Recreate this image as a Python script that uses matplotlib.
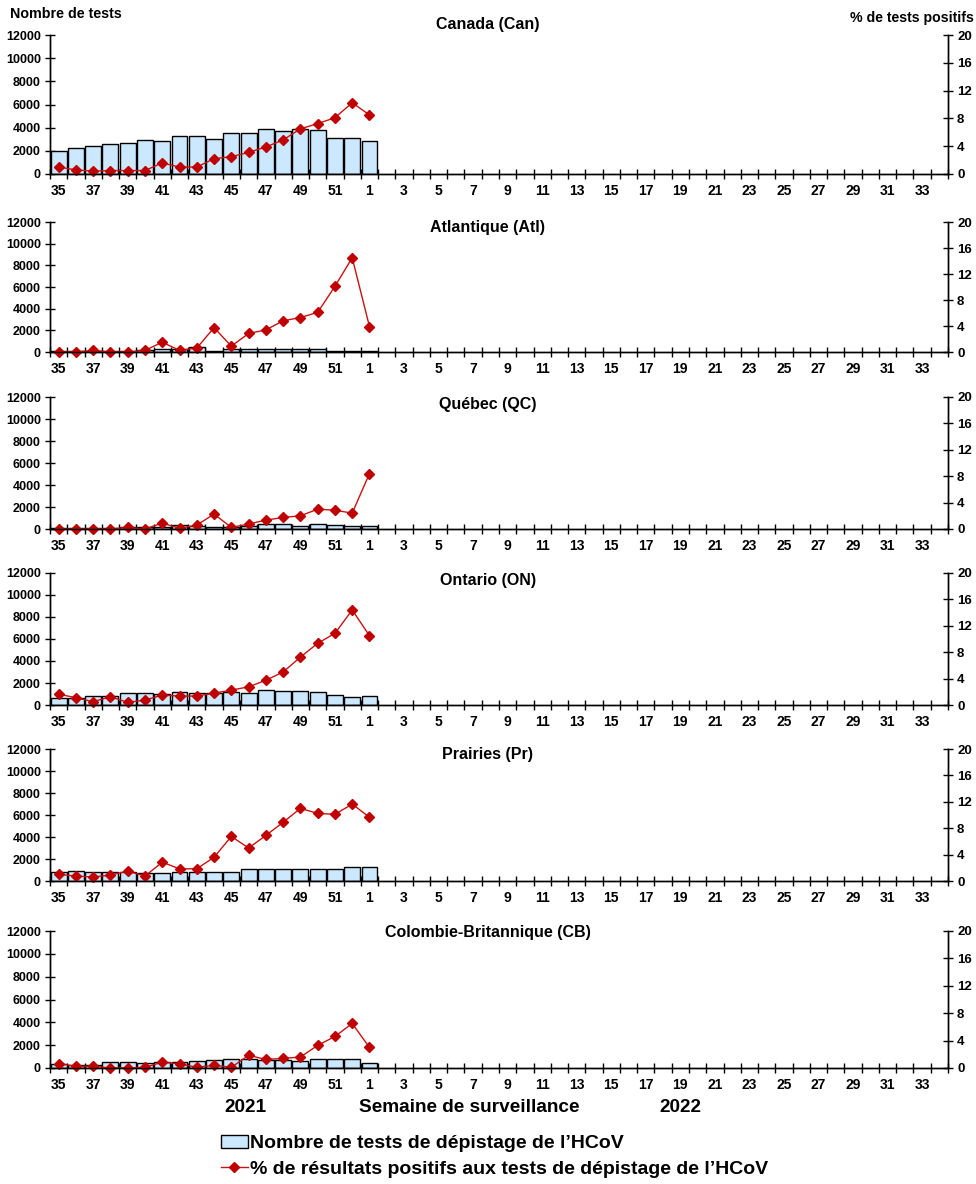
import numpy as np
import matplotlib
matplotlib.use('Agg')
import matplotlib.pyplot as plt
from matplotlib.patches import Patch
from matplotlib.lines import Line2D

plt.rcParams['font.family'] = ['Liberation Sans', 'DejaVu Sans']
plt.rcParams['font.weight'] = 'bold'

# weeks of the surveillance season (35..52 in 2021, 1..34 in 2022)
weeks = [str(w) for w in list(range(35, 53)) + list(range(1, 35))]

regions = ['Canada (Can)', 'Atlantique (Atl)', 'Québec (QC)',
           'Ontario (ON)', 'Prairies (Pr)', 'Colombie-Britannique (CB)']

# number of tests (weeks 35 .. 52, 1)
tests_can = [2000, 2250, 2450, 2550, 2700, 2950, 2850, 3300, 3300, 3050,
             3500, 3500, 3900, 3750, 3850, 3800, 3150, 3150, 2850]
tests_atl = [50, 100, 100, 50, 50, 200, 250, 300, 500, 50,
             250, 250, 250, 300, 300, 300, 50, 50, 50]
tests_qc = [50, 50, 50, 100, 150, 150, 200, 400, 250, 150,
            200, 250, 450, 450, 250, 450, 350, 250, 250]
tests_on = [650, 650, 800, 800, 1050, 1050, 1000, 1150, 1050, 1050,
            1150, 1050, 1350, 1250, 1250, 1150, 900, 700, 800]
tests_pr = [800, 950, 850, 850, 800, 750, 700, 800, 800, 850,
            850, 1050, 1050, 1050, 1050, 1050, 1050, 1250, 1250]
tests_cb = [350, 300, 300, 500, 500, 450, 500, 500, 600, 700,
            750, 750, 700, 700, 650, 750, 750, 750, 400]

# % positive
pct_can = [1.0, 0.6, 0.4, 0.5, 0.5, 0.5, 1.6, 1.0, 1.0, 2.2,
           2.5, 3.1, 3.9, 4.9, 6.5, 7.25, 8.1, 10.25, 8.5]
pct_atl = [0.0, 0.0, 0.25, 0.0, 0.0, 0.25, 1.5, 0.25, 0.6, 3.75,
           0.9, 2.85, 3.4, 4.8, 5.3, 6.1, 10.1, 14.5, 3.9]
pct_qc = [0.0, 0.0, 0.0, 0.0, 0.25, 0.0, 0.9, 0.1, 0.6, 2.25,
          0.25, 0.75, 1.35, 1.75, 2.0, 3.0, 2.85, 2.4, 8.4]
pct_on = [1.65, 1.1, 0.5, 1.25, 0.4, 0.75, 1.5, 1.35, 1.35, 1.8,
          2.25, 2.75, 3.75, 5.0, 7.25, 9.35, 10.85, 14.4, 10.5]
pct_pr = [1.0, 0.75, 0.6, 0.9, 1.5, 0.75, 2.85, 1.85, 1.85, 3.6,
          6.75, 5.0, 6.9, 8.9, 11.0, 10.25, 10.1, 11.65, 9.65]
pct_cb = [0.65, 0.25, 0.25, 0.0, 0.0, 0.1, 0.85, 0.6, 0.1, 0.4,
          0.1, 1.85, 1.25, 1.4, 1.6, 3.3, 4.6, 6.5, 3.0]

tests = [tests_can, tests_atl, tests_qc, tests_on, tests_pr, tests_cb]
pcts = [pct_can, pct_atl, pct_qc, pct_on, pct_pr, pct_cb]

W, H = 976, 1184
fig = plt.figure(figsize=(W / 100, H / 100), dpi=100)

# pixel boxes (top, bottom) of each panel and y of its title
boxes = [(35, 174), (222, 352), (397, 529), (573, 705), (749, 881), (931, 1068)]
title_y = [25, 227, 404, 580, 755, 933]
x0, x1 = 50, 948

bar_col = '#CCE8FF'
line_col = '#C00000'
x = np.arange(len(weeks))

for i, (top, bot) in enumerate(boxes):
    ax = fig.add_axes([x0 / W, 1 - bot / H, (x1 - x0) / W, (bot - top) / H])
    n = len(tests[i])
    ax.bar(x[:n], tests[i], width=0.92, color=bar_col, edgecolor='black',
           linewidth=1.0, zorder=2)
    ax.set_xlim(-0.5, len(weeks) - 0.5)
    ax.set_ylim(0, 12000)
    ax.set_yticks(range(0, 12001, 2000))
    ax.set_xticks(x[::2])
    ax.set_xticklabels(weeks[::2])
    ax.set_xticks(np.arange(-0.5, len(weeks), 1), minor=True)
    ax.tick_params(axis='x', which='major', length=0, pad=7, labelsize=10)
    ax.tick_params(axis='x', which='minor', length=7, direction='inout', width=1)
    ax.tick_params(axis='y', length=7, direction='inout', width=1, labelsize=9, pad=3)
    ax.spines['top'].set_visible(False)
    for s in ['left', 'bottom', 'right']:
        ax.spines[s].set_linewidth(1.0)

    ax2 = ax.twinx()
    ax2.plot(x[:n], pcts[i], color='#CC1010', linewidth=1.0, marker='D',
             markersize=5.5, markerfacecolor=line_col, markeredgecolor=line_col,
             clip_on=False)
    ax2.set_ylim(0, 20)
    ax2.set_yticks(range(0, 21, 4))
    ax2.tick_params(axis='y', length=7, direction='inout', width=1, labelsize=9.5, pad=3)
    ax2.spines['top'].set_visible(False)
    for s in ['left', 'bottom', 'right']:
        ax2.spines[s].set_linewidth(1.0)

    fig.text(488 / W, 1 - title_y[i] / H, regions[i], ha='center', va='center',
             fontsize=11.5, fontweight='bold')

fig.text(10 / W, 1 - 14 / H, 'Nombre de tests', ha='left', va='center',
         fontsize=10.3, fontweight='bold')
fig.text(974 / W, 1 - 18 / H, '% de tests positifs', ha='right', va='center',
         fontsize=10.2, fontweight='bold')

fig.text(245 / W, 1 - 1107 / H, '2021', ha='center', va='center',
         fontsize=13.7, fontweight='bold')
fig.text(469 / W, 1 - 1107 / H, 'Semaine de surveillance', ha='center',
         va='center', fontsize=13.7, fontweight='bold')
fig.text(680 / W, 1 - 1107 / H, '2022', ha='center', va='center',
         fontsize=13.7, fontweight='bold')

handles = [Patch(facecolor=bar_col, edgecolor='black', linewidth=1.0),
           Line2D([], [], color='#CC1010', linewidth=1.0, marker='D',
                  markersize=5.5, markerfacecolor=line_col, markeredgecolor=line_col)]
labels = ['Nombre de tests de dépistage de l\u2019HCoV',
          '% de résultats positifs aux tests de dépistage de l\u2019HCoV']
fig.legend(handles, labels, loc='upper left',
           bbox_to_anchor=(211 / W, 1 - 1125 / H), frameon=False,
           prop={'size': 14, 'weight': 'bold'}, handlelength=1.4,
           handletextpad=0.12, labelspacing=0.4, borderpad=0)

fig.savefig('out.png', dpi=100)
